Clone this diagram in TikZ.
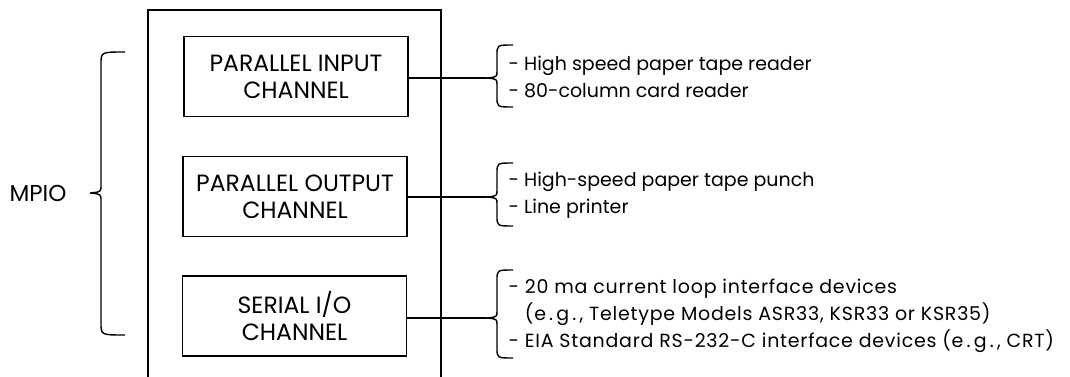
\documentclass[tikz,border=0pt]{standalone}
\usepackage{fontspec}
\setmainfont{Poppins}
\begin{document}
\begin{tikzpicture}[x=1pt,y=-1pt,
  line width=1.2pt,
  chan/.style={draw, line width=1.4pt, minimum width=224pt, minimum height=80pt, align=center, font=\fontsize{23.5}{27}\selectfont, inner sep=0pt},
  list/.style={anchor=west, align=left, font=\fontsize{19}{27}\selectfont, inner sep=0pt},
  bracepath/.style={line width=1.4pt}]
\useasboundingbox (0,0) rectangle (1070,377);
% outer open box
\draw[line width=1.4pt] (148,377) -- (148,10) -- (441,10) -- (441,377);
% channel boxes
\node[chan] (b1) at (296,76.5) {PARALLEL INPUT\\CHANNEL};
\node[chan] (b2) at (295,196.5) {PARALLEL OUTPUT\\CHANNEL};
\node[chan] (b3) at (294.5,316) {SERIAL I/O\\CHANNEL};
% brace tips
\coordinate (t1) at (487,78);
\coordinate (t2) at (487,197);
\coordinate (t3) at (487,318);
\coordinate (tm) at (90,193);
\draw (b1.east |- t1) -- (t1);
\draw (b2.east |- t2) -- (t2);
\draw (b3.east |- t3) -- (t3);
% braces
\newcommand{\mybrace}[5]{%
  \draw[bracepath] (#3+16,#4) .. controls (#3,#4) .. (#3,#4+10) -- (#3,#2-7)
    .. controls (#3,#2-1) .. (#1,#2) .. controls (#3,#2+1) .. (#3,#2+7)
    -- (#3,#5-10) .. controls (#3,#5) .. (#3+16,#5);}
\mybrace{487}{78}{497}{45}{107}
\mybrace{487}{197}{497}{163}{226}
\mybrace{487}{318}{497}{270}{358}
\draw[bracepath] (125,52) .. controls (101,52) .. (101,64) -- (101,185)
    .. controls (101,192) .. (90,193) .. controls (101,194) .. (101,201)
    -- (101,323) .. controls (101,335) .. (125,335);
% labels
\node[anchor=east, inner sep=0pt, font=\fontsize{23}{27}\selectfont] (mpio) at (67,193) {MPIO};
\node[list] (l1) at (508,76.5) {- High speed paper tape reader\\- 80-column card reader};
\node[list] (l2) at (508,195.5) {- High-speed paper tape punch\\- Line printer};
\node[list, font=\fontsize{19}{27}\selectfont\addfontfeatures{LetterSpace=4}] (l3) at (508,316) {- 20 ma current loop interface devices\\\hphantom{- }(e\,.\,g\,.\,, Teletype Models ASR33, KSR33 or KSR35)\\- EIA Standard RS-232-C interface devices (e\,.\,g\,.\,, CRT)};
\end{tikzpicture}
\end{document}
